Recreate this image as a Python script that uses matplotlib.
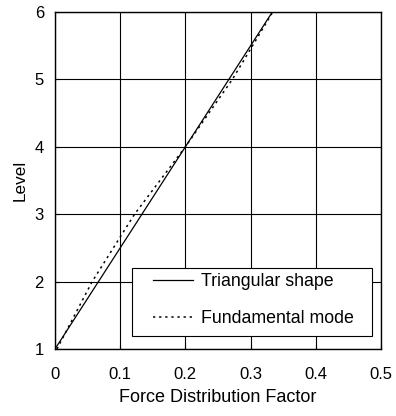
import numpy as np
import matplotlib
matplotlib.use("Agg")
import matplotlib.pyplot as plt
from matplotlib.patches import Rectangle

plt.rcParams['font.family'] = ['Liberation Sans', 'DejaVu Sans']

# storey levels and force distribution factors
levels = [1, 2, 3, 4, 5, 6]
triangular = [0.0, 1/15, 2/15, 3/15, 4/15, 5/15]
fundamental = [0.003, 0.057, 0.122, 0.200, 0.272, 0.334]

xticks = [0, 0.1, 0.2, 0.3, 0.4, 0.5]
xticklabels = ['0', '0.1', '0.2', '0.3', '0.4', '0.5']
yticks = [1, 2, 3, 4, 5, 6]

fig = plt.figure(figsize=(3.96, 4.16), dpi=100)
ax = fig.add_axes([55/396, 1 - 349/416, 326/396, 337/416])

ax.plot(triangular, levels, color='k', lw=0.9, label='Triangular shape')
ax.plot(fundamental, levels, color='k', lw=1.1, ls=(0, (1.5, 2.5)), label='Fundamental mode')

ax.set_xlim(0, 0.5)
ax.set_ylim(1, 6)
ax.set_xticks(xticks)
ax.set_xticklabels(xticklabels)
ax.set_yticks(yticks)
ax.grid(True, color='k', lw=0.8)
ax.tick_params(direction='in', length=3, labelsize=12)
ax.tick_params(axis='x', pad=13)
ax.tick_params(axis='y', pad=8)
for s in ax.spines.values():
    s.set_linewidth(1.0)
    s.set_zorder(6)

ax.set_xlabel('Force Distribution Factor', fontsize=13, labelpad=5)
ax.set_ylabel('Level', fontsize=12.3, labelpad=5)

# legend box (white, covers the grid)
box = Rectangle((0.236, 0.0386), 0.736, 0.2014, transform=ax.transAxes,
                facecolor='white', edgecolor='k', lw=0.8, zorder=4)
ax.add_patch(box)
leg = ax.legend(loc='center left', bbox_to_anchor=(0.3006, 0.1454), fontsize=12.8,
                frameon=False, handlelength=2.25, labelspacing=1.15,
                borderpad=0, borderaxespad=0, handletextpad=0.45)
leg.set_zorder(5)

fig.savefig('out.png', dpi=100)
